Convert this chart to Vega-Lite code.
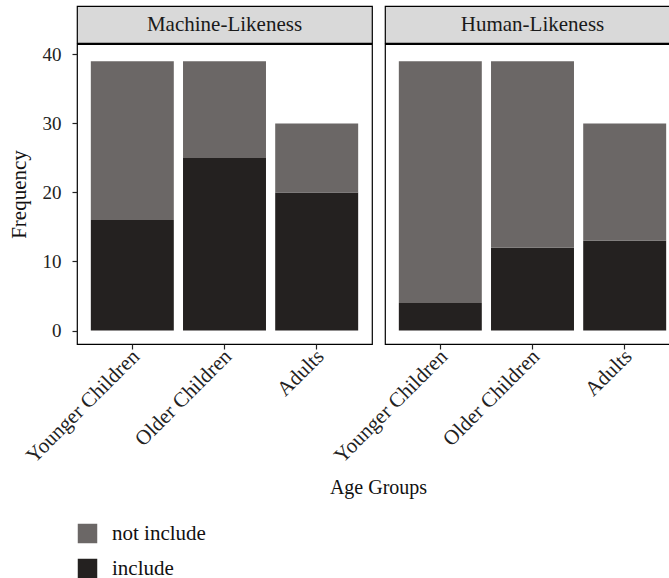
{
  "$schema": "https://vega.github.io/schema/vega-lite/v6.json",
  "background": "white",
  "padding": {"left": 7, "top": 5, "right": 5, "bottom": 5},
  "datasets": {
    "counts": [
      {"panel": "Machine-Likeness", "group": "Younger Children", "status": "include", "frequency": 16},
      {"panel": "Machine-Likeness", "group": "Younger Children", "status": "not include", "frequency": 23},
      {"panel": "Machine-Likeness", "group": "Older Children", "status": "include", "frequency": 25},
      {"panel": "Machine-Likeness", "group": "Older Children", "status": "not include", "frequency": 14},
      {"panel": "Machine-Likeness", "group": "Adults", "status": "include", "frequency": 20},
      {"panel": "Machine-Likeness", "group": "Adults", "status": "not include", "frequency": 10},
      {"panel": "Human-Likeness", "group": "Younger Children", "status": "include", "frequency": 4},
      {"panel": "Human-Likeness", "group": "Younger Children", "status": "not include", "frequency": 35},
      {"panel": "Human-Likeness", "group": "Older Children", "status": "include", "frequency": 12},
      {"panel": "Human-Likeness", "group": "Older Children", "status": "not include", "frequency": 27},
      {"panel": "Human-Likeness", "group": "Adults", "status": "include", "frequency": 13},
      {"panel": "Human-Likeness", "group": "Adults", "status": "not include", "frequency": 17}
    ],
    "strip1": [{"panel": "Machine-Likeness"}],
    "strip2": [{"panel": "Human-Likeness"}]
  },
  "config": {
    "font": "Liberation Serif",
    "view": {"stroke": "black", "strokeWidth": 1.2},
    "axis": {
      "domain": false,
      "grid": false,
      "tickColor": "#222",
      "tickSize": 5,
      "tickWidth": 1.2,
      "labelColor": "#222",
      "labelFontSize": 21,
      "titleColor": "#111",
      "titleFontSize": 21,
      "titleFontWeight": "normal"
    },
    "legend": {
      "labelFontSize": 21,
      "labelColor": "#111"
    }
  },
  "spacing": -1,
  "vconcat": [
    {
      "spacing": 13,
      "bounds": "flush",
      "hconcat": [
        {
          "data": {"name": "strip1"},
          "width": 295,
          "height": 37,
          "view": {"fill": "#d9d9d9", "stroke": "black", "strokeWidth": 1.2},
          "mark": {"type": "text", "fontSize": 21, "color": "#1a1a1a", "baseline": "middle"},
          "encoding": {"text": {"field": "panel"}}
        },
        {
          "data": {"name": "strip2"},
          "width": 295,
          "height": 37,
          "view": {"fill": "#d9d9d9", "stroke": "black", "strokeWidth": 1.2},
          "mark": {"type": "text", "fontSize": 21, "color": "#1a1a1a", "baseline": "middle"},
          "encoding": {"text": {"field": "panel"}}
        }
      ]
    },
    {
      "spacing": 13,
      "bounds": "flush",
      "hconcat": [
        {
          "data": {"name": "counts"},
          "transform": [{"filter": "datum.panel === 'Machine-Likeness'"}],
          "width": 295,
          "height": 300,
          "mark": {"type": "bar"},
          "encoding": {
            "x": {
              "field": "group", "type": "nominal",
              "sort": ["Younger Children", "Older Children", "Adults"],
              "scale": {"paddingInner": 0.1, "paddingOuter": 0.15},
              "axis": {"title": "Age Groups", "titleFontSize": 20, "labelAngle": -45, "labelAlign": "right", "labelBaseline": "middle", "labelPadding": 4, "labelOffset": 4, "titleX": 301, "titleY": 133, "titleBaseline": "top"}
            },
            "y": {
              "field": "frequency", "type": "quantitative", "stack": "zero",
              "scale": {"domain": [-1.95, 41.5], "nice": false, "zero": false},
              "axis": {"title": "Frequency", "values": [0, 10, 20, 30, 40], "labelFontSize": 19, "labelPadding": 11, "titlePadding": 13}
            },
            "color": {
              "field": "status", "type": "nominal",
              "scale": {"domain": ["not include", "include"], "range": ["#6b6766", "#242120"]},
              "legend": {"title": null, "orient": "none", "legendX": 0, "legendY": 517, "direction": "vertical", "symbolType": "square", "symbolSize": 380, "symbolStrokeWidth": 0, "symbolOpacity": 1, "rowPadding": 13, "labelOffset": 14}
            },
            "order": {"field": "status", "sort": "ascending"}
          }
        },
        {
          "data": {"name": "counts"},
          "transform": [{"filter": "datum.panel === 'Human-Likeness'"}],
          "width": 295,
          "height": 300,
          "mark": {"type": "bar"},
          "encoding": {
            "x": {
              "field": "group", "type": "nominal",
              "sort": ["Younger Children", "Older Children", "Adults"],
              "scale": {"paddingInner": 0.1, "paddingOuter": 0.15},
              "axis": {"title": null, "labelAngle": -45, "labelAlign": "right", "labelBaseline": "middle", "labelPadding": 4, "labelOffset": 4}
            },
            "y": {
              "field": "frequency", "type": "quantitative", "stack": "zero",
              "scale": {"domain": [-1.95, 41.5], "nice": false, "zero": false},
              "axis": null
            },
            "color": {
              "field": "status", "type": "nominal",
              "scale": {"domain": ["not include", "include"], "range": ["#6b6766", "#242120"]},
              "legend": {"title": null, "orient": "none", "legendX": 0, "legendY": 517, "direction": "vertical", "symbolType": "square", "symbolSize": 380, "symbolStrokeWidth": 0, "symbolOpacity": 1, "rowPadding": 13, "labelOffset": 14}
            },
            "order": {"field": "status", "sort": "ascending"}
          }
        }
      ]
    }
  ]
}
